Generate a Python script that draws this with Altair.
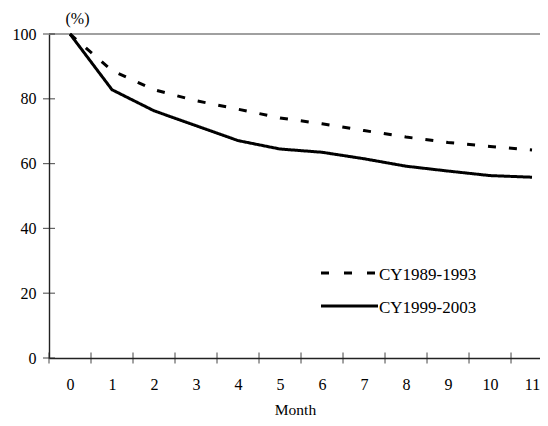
import altair as alt
import pandas as pd

# ---- data ----
months = list(range(12))
cy1989_1993 = [100, 88.7, 82.8, 79.4, 76.8, 74.1, 72.3, 70.2, 68.2, 66.5, 65.3, 64.2]
cy1999_2003 = [100, 82.8, 76.3, 71.7, 67.1, 64.5, 63.5, 61.5, 59.2, 57.7, 56.3, 55.8]
series_names = ["CY1989-1993", "CY1999-2003"]
y_ticks = [0, 20, 40, 60, 80, 100]
x_boundaries = [m - 0.5 for m in months]  # category borders for tick marks

FONT = "Liberation Serif"
AXIS_COLOR = "#222222"

df = pd.DataFrame({
    "month": months * 2,
    "value": cy1989_1993 + cy1999_2003,
    "series": [series_names[0]] * len(months) + [series_names[1]] * len(months),
})

xscale = alt.Scale(domain=[-0.5, 11.19], nice=False, zero=False)
yscale = alt.Scale(domain=[0, 100], nice=False, zero=False)

x_axis = alt.Axis(
    values=months, title="Month", grid=False, ticks=False, tickSize=0,
    domainColor=AXIS_COLOR, domainWidth=1.4,
    labelFont=FONT, labelFontSize=16, labelColor="black",
    labelBaseline="alphabetic", labelPadding=31, labelFlush=False,
    titleFont=FONT, titleFontSize=15.5, titleFontWeight="normal", titleColor="black",
    titleX=246, titleY=56, titleAlign="center", titleBaseline="alphabetic",
)
y_axis = alt.Axis(
    values=y_ticks, title="(%)", grid=False, ticks=False, tickSize=0,
    domainColor=AXIS_COLOR, domainWidth=1.4,
    labelFont=FONT, labelFontSize=16, labelColor="black", labelPadding=13,
    titleFont=FONT, titleFontSize=16, titleFontWeight="normal", titleColor="black",
    titleAngle=0, titleX=28, titleY=-11, titleAlign="center", titleBaseline="alphabetic",
)

top_rule = alt.Chart(pd.DataFrame({"y": [100]})).mark_rule(
    color="#a0a0a0", strokeWidth=2
).encode(y=alt.Y("y:Q", scale=yscale, axis=y_axis))

lines = alt.Chart(df).mark_line(color="black", strokeWidth=3).encode(
    x=alt.X("month:Q", scale=xscale, axis=x_axis),
    y=alt.Y("value:Q", scale=yscale, axis=y_axis),
    strokeDash=alt.StrokeDash(
        "series:N",
        scale=alt.Scale(domain=series_names, range=[[8, 13], [1, 0]]),
        legend=None,
    ),
    detail="series:N",
)

x_ticks = alt.Chart(pd.DataFrame({"b": x_boundaries, "y": [0] * len(x_boundaries)})).mark_tick(
    orient="vertical", size=11, thickness=1.2, color=AXIS_COLOR
).encode(x=alt.X("b:Q", scale=xscale), y=alt.Y("y:Q", scale=yscale))

y_tick_marks = alt.Chart(pd.DataFrame({"v": y_ticks, "x": [-0.5] * len(y_ticks)})).mark_tick(
    orient="horizontal", size=12, thickness=1.2, color=AXIS_COLOR
).encode(x=alt.X("x:Q", scale=xscale), y=alt.Y("v:Q", scale=yscale))

# ---- manual legend ----
leg1 = alt.Chart(pd.DataFrame({"label": [series_names[0]]}))
leg2 = alt.Chart(pd.DataFrame({"label": [series_names[1]]}))
leg1_line = leg1.mark_rule(color="black", strokeWidth=3, strokeDash=[8, 15]).encode(
    x=alt.value(272), x2=alt.value(326), y=alt.value(239))
leg2_line = leg2.mark_rule(color="black", strokeWidth=3).encode(
    x=alt.value(272), x2=alt.value(329), y=alt.value(272))
leg1_text = leg1.mark_text(align="left", baseline="alphabetic", font=FONT, fontSize=17, color="black").encode(
    x=alt.value(330), y=alt.value(246), text="label:N")
leg2_text = leg2.mark_text(align="left", baseline="alphabetic", font=FONT, fontSize=17, color="black").encode(
    x=alt.value(330), y=alt.value(279), text="label:N")

chart = alt.layer(
    top_rule, lines, x_ticks, y_tick_marks, leg1_line, leg2_line, leg1_text, leg2_text
).properties(
    width=491, height=324,
    autosize=alt.AutoSizeParams(type="none"),
    padding={"left": 41, "top": 26, "right": 0, "bottom": 60},
    background="white",
).configure_view(stroke=None)

chart.save("out.html", embed_options={"renderer": "svg", "actions": False})
